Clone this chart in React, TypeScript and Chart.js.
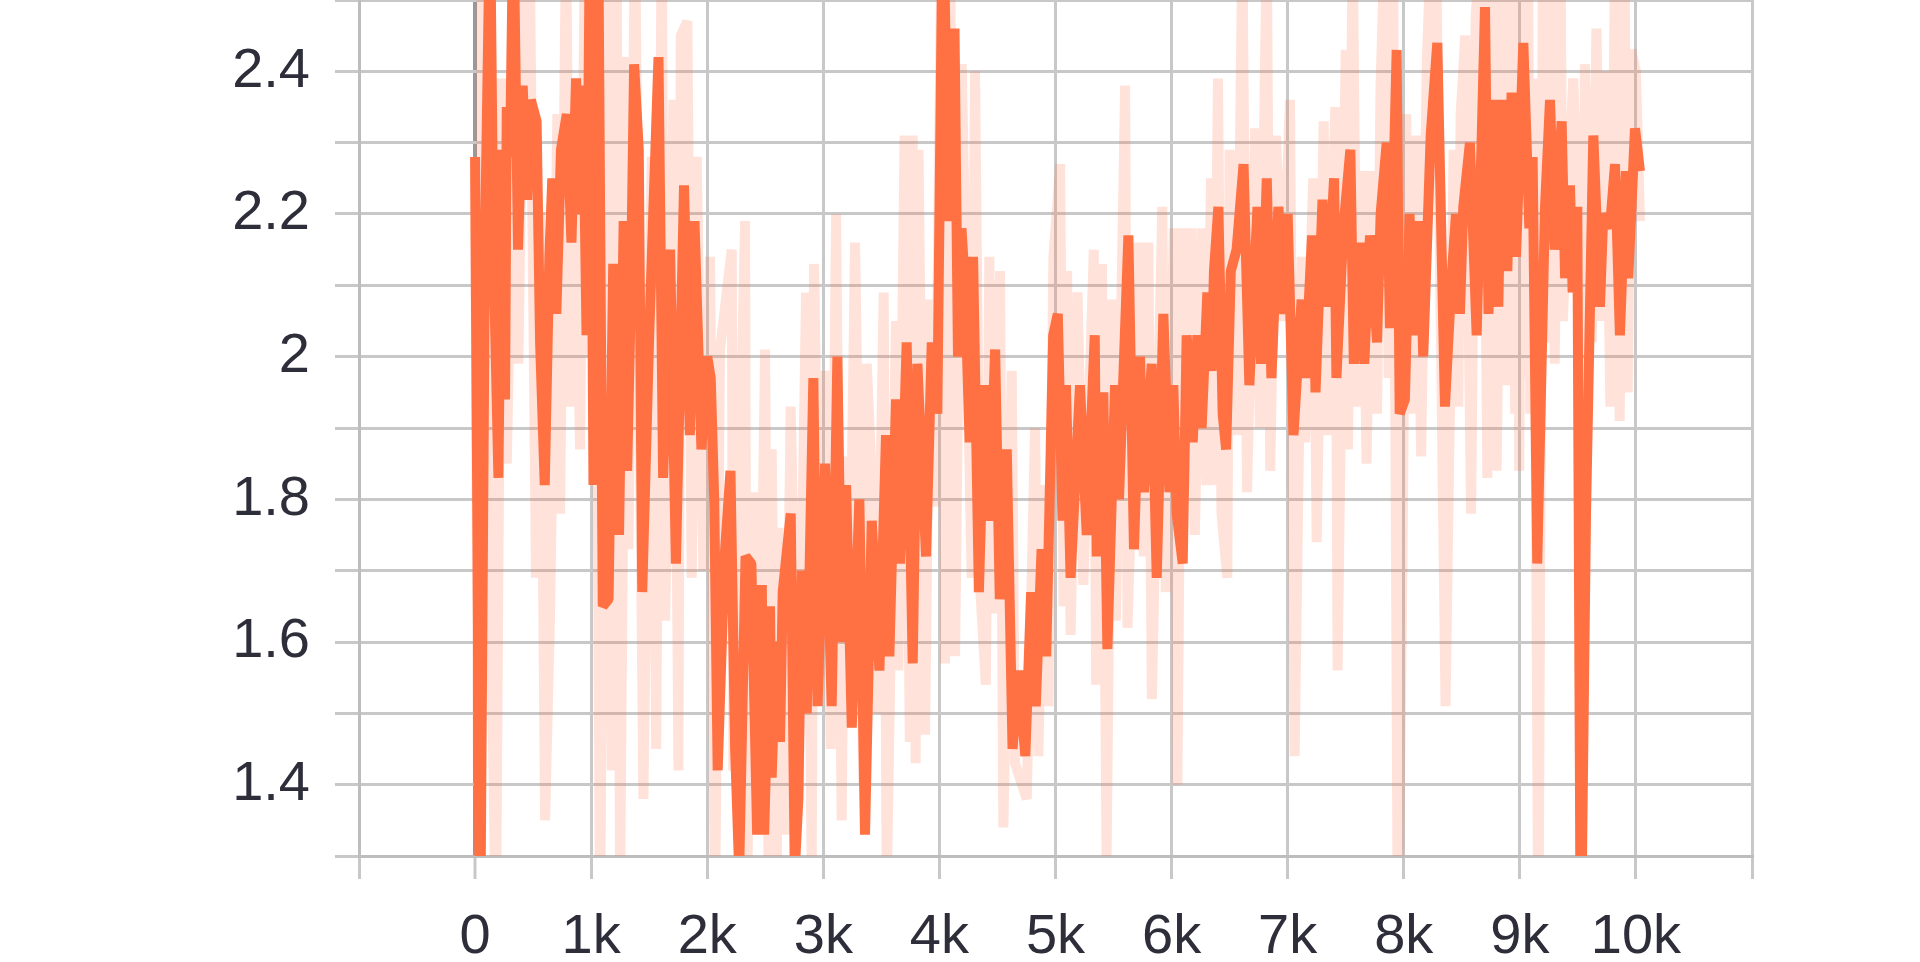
import React, { useEffect, useRef } from 'react';
import { Chart, registerables } from 'chart.js';

Chart.register(...registerables);

// Smoothed series (bold)
const smoothSteps = [
  0, 43, 86, 129, 158, 201, 230, 258, 273, 301, 330, 370, 410, 450, 480, 530, 560, 600, 640, 665,
  700, 740, 790, 830, 870, 900, 930, 960, 990, 1020, 1060, 1100, 1150, 1190, 1240,
  1280, 1310, 1340, 1370, 1410, 1440, 1500, 1580, 1620, 1680, 1730, 1800, 1850, 1890, 1950,
  2000, 2030, 2060, 2090, 2150, 2200, 2240, 2275, 2330, 2380, 2430, 2470,
  2490, 2541, 2555, 2593, 2627, 2650, 2719, 2754, 2785, 2814, 2857, 2914, 2950, 3015, 3072, 3121,
  3158, 3196, 3245, 3310, 3359, 3417, 3483, 3540, 3569, 3626, 3661, 3718, 3770, 3810,
  3885, 3934, 3982, 4030, 4080, 4130, 4160, 4190, 4220, 4260, 4290, 4340, 4390, 4430, 4480, 4520,
  4580, 4630, 4680, 4740, 4790, 4830, 4880, 4920, 4980, 5020, 5060, 5090, 5130,
  5211, 5269, 5338, 5355, 5412, 5447, 5513, 5547, 5628, 5676, 5728, 5762, 5829, 5872, 5929, 5981,
  6015, 6044, 6096, 6130, 6182, 6222, 6259, 6308, 6345, 6365, 6403,
  6440, 6470, 6510, 6560, 6620, 6670, 6740, 6770, 6820, 6860, 6920, 6970, 7000, 7050, 7120, 7150,
  7210, 7240, 7300, 7340, 7400, 7420, 7480, 7540, 7570, 7637, 7660,
  7709, 7770, 7801, 7853, 7881, 7939, 7965, 8010, 8050, 8082, 8134, 8168, 8232, 8289, 8355, 8412,
  8450, 8484, 8513, 8570, 8628, 8700, 8730, 8763, 8815, 8843, 8892, 8929, 8967,
  9030, 9082, 9110, 9150, 9217, 9260, 9300, 9360, 9390, 9432, 9455, 9495, 9525, 9570, 9633, 9690,
  9719, 9776, 9820, 9862, 9914, 9934, 9992, 10035,
];
const smoothValues = [
  2.28, 1.15, 2.17, 2.62, 2.15, 1.83, 2.29, 1.94, 2.35, 2.28, 2.62, 2.15, 2.38, 2.22, 2.36, 2.33, 2.02, 1.82, 2.14, 2.25,
  2.06, 2.29, 2.34, 2.16, 2.39, 2.2, 2.38, 2.03, 2.62, 1.82, 2.62, 1.65, 1.66, 2.13, 1.75,
  2.19, 1.84, 2.07, 2.41, 2.29, 1.67, 2.03, 2.42, 1.83, 2.15, 1.71, 2.24, 1.89, 2.19, 1.87,
  2.0, 1.97, 1.8, 1.42, 1.72, 1.84, 1.45, 1.28, 1.72, 1.71, 1.33, 1.68,
  1.33, 1.65, 1.41, 1.6, 1.46, 1.67, 1.78, 1.28, 1.38, 1.7, 1.5, 1.97, 1.51, 1.85, 1.51, 2.0,
  1.6, 1.82, 1.48, 1.8, 1.33, 1.77, 1.56, 1.89, 1.58, 1.94, 1.71, 2.02, 1.57, 1.99,
  1.72, 2.02, 1.92, 2.65, 2.19, 2.46, 2.0, 2.18, 2.1, 1.88, 2.14, 1.67, 1.96, 1.77, 2.01, 1.66,
  1.87, 1.45, 1.56, 1.44, 1.67, 1.51, 1.73, 1.58, 2.03, 2.06, 1.77, 1.96, 1.69,
  1.96, 1.75, 2.03, 1.72, 1.95, 1.59, 1.96, 1.8, 2.17, 1.73, 2.0, 1.81, 1.99, 1.69, 2.06, 1.81,
  1.96, 1.78, 1.71, 2.03, 1.88, 2.03, 1.9, 2.09, 1.98, 2.12, 2.21,
  1.92, 1.87, 2.12, 2.15, 2.27, 1.96, 2.21, 1.99, 2.25, 1.97, 2.21, 2.06, 2.2, 1.89, 2.08, 1.97,
  2.17, 1.95, 2.22, 2.07, 2.25, 1.97, 2.18, 2.29, 1.99, 2.16, 1.99,
  2.17, 2.02, 2.2, 2.3, 2.04, 2.43, 1.92, 1.94, 2.2, 2.03, 2.19, 2.0, 2.31, 2.44, 1.93, 2.11,
  2.2, 2.06, 2.21, 2.3, 2.03, 2.49, 2.06, 2.36, 2.07, 2.36, 2.12, 2.37, 2.14,
  2.44, 2.18, 2.28, 1.71, 2.21, 2.36, 2.15, 2.33, 2.11, 2.24, 2.09, 2.21, 1.15, 1.78, 2.31, 2.07,
  2.2, 2.18, 2.27, 2.03, 2.26, 2.11, 2.32, 2.26,
];

// Raw series (faint)
const rawSteps = [
  0, 30, 57, 100, 180, 230, 273, 359, 373, 416, 474, 525, 560, 603, 646, 709, 732, 784, 818, 861,
  904, 947, 990, 1030, 1077, 1134, 1177, 1220, 1249, 1307, 1321, 1378, 1450, 1522, 1560, 1608, 1637,
  1709, 1752, 1772, 1829, 1866, 1909, 1967, 2024, 2067, 2110, 2211, 2225, 2326, 2340, 2398, 2441,
  2498, 2527, 2555, 2599, 2613, 2670, 2719, 2785, 2851, 2900, 2920, 2972, 3018, 3064, 3110, 3158,
  3187, 3216, 3273, 3345, 3374, 3431, 3460, 3520, 3546, 3626, 3646, 3700, 3745, 3770, 3795, 3820,
  3876, 3919, 3962, 4020, 4048, 4091, 4135, 4192, 4278, 4307, 4350, 4400, 4430, 4465, 4522, 4551,
  4623, 4651, 4752, 4824, 4852, 4901, 4938, 4982, 5040, 5070, 5100, 5130, 5190, 5240, 5330, 5350,
  5400, 5440, 5490, 5520, 5600, 5620, 5720, 5760, 5800, 5830, 5920, 5950, 6020, 6050, 6090, 6130,
  6170, 6200, 6260, 6300, 6340, 6360, 6400, 6430, 6480, 6500, 6560, 6610, 6650, 6720, 6760, 6820,
  6850, 6900, 6950, 7020, 7060, 7120, 7150, 7220, 7250, 7310, 7340, 7410, 7430, 7500, 7520, 7560,
  7600, 7640, 7680, 7720, 7770, 7800, 7840, 7870, 7910, 7950, 7990, 8020, 8060, 8110, 8150, 8200,
  8240, 8280, 8360, 8430, 8470, 8490, 8530, 8580, 8620, 8680, 8720, 8780, 8800, 8860, 8880, 8930,
  8960, 8975, 8995, 9020, 9045, 9070, 9090, 9120, 9160, 9200, 9230, 9270, 9300, 9350, 9370, 9460,
  9500, 9525, 9560, 9620, 9660, 9700, 9740, 9780, 9820, 9860, 9900, 9930, 9960, 10000, 10035,
];
const rawValues = [
  2.28, 1.2, 2.6, 2.0, 1.2, 2.39, 1.85, 2.55, 1.99, 2.48, 2.52, 1.69, 2.2, 1.35, 1.64, 2.34, 1.78, 2.6, 1.93, 2.3,
  1.87, 2.6, 2.0, 2.6, 1.2, 2.6, 1.42, 2.55, 1.25, 2.42, 1.73, 2.6, 1.38, 2.28, 1.45, 2.6, 1.63,
  2.36, 1.42, 2.45, 2.47, 1.69, 2.28, 1.7, 2.14, 1.22, 2.01, 2.15, 1.42, 2.19, 1.22, 1.81, 1.33,
  2.01, 1.3, 1.87, 1.28, 1.76, 1.33, 1.93, 1.38, 2.09, 1.28, 2.13, 1.55, 1.98, 1.45, 2.2, 1.35,
  1.86, 1.48, 2.16, 1.4, 1.99, 1.78, 1.5, 2.09, 1.25, 2.05, 1.56, 2.31, 1.46, 2.31, 1.43, 2.29,
  1.47, 2.08, 1.79, 2.6, 1.57, 2.6, 1.58, 2.41, 1.69, 2.4, 1.68, 1.54, 2.14, 1.64, 2.12, 1.34,
  1.98, 1.43, 1.38, 1.9, 1.44, 1.82, 1.51, 2.14, 2.27, 1.65, 2.12, 1.61, 2.09, 1.68, 2.15, 1.54,
  2.13, 1.3, 2.08, 1.63, 2.38, 1.62, 2.16, 1.72, 2.16, 1.52, 2.21, 1.67, 2.18, 1.4, 2.18, 1.9,
  2.18, 1.75, 2.18, 1.82, 2.25, 1.82, 2.39, 1.78, 1.69, 2.29, 1.89, 2.58, 1.81, 2.32, 1.9, 2.58,
  1.84, 2.31, 2.05, 2.36, 1.44, 2.14, 1.88, 2.25, 1.74, 2.33, 1.89, 2.35, 1.56, 2.43, 1.87, 2.58,
  1.93, 2.26, 1.85, 2.26, 1.92, 2.38, 2.6, 1.97, 2.5, 1.15, 1.72, 2.34, 1.92, 2.31, 1.86, 2.42,
  2.6, 2.55, 1.51, 2.29, 1.93, 2.34, 2.45, 1.78, 2.48, 2.6, 1.83, 2.6, 1.84, 2.6, 1.96, 2.6,
  1.92, 2.6, 1.84, 2.6, 1.97, 2.6, 1.92, 2.39, 1.15, 2.6, 2.02, 2.6, 1.99, 2.6, 2.05, 2.39,
  2.2, 1.15, 2.41, 2.02, 2.46, 2.05, 2.4, 1.93, 2.55, 1.91, 2.6, 1.95, 2.43, 2.4, 2.19,
];

const xTickLabels = ['0', '1k', '2k', '3k', '4k', '5k', '6k', '7k', '8k', '9k', '10k'];
const yTickLabels = ['1.4', '1.6', '1.8', '2', '2.2', '2.4'];

const FONT = '"Liberation Sans", Arial, sans-serif';
const TEXT = '#2e2e3a';
const GRID = '#c8c8c8';

export default function App() {
  const ref = useRef<HTMLCanvasElement | null>(null);

  useEffect(() => {
    const canvas = ref.current;
    if (!canvas) return;
    const chart = new Chart(canvas, {
      type: 'line',
      data: {
        datasets: [
          {
            data: smoothSteps.map((s, i) => ({ x: s, y: smoothValues[i] })),
            borderColor: '#ff7043',
            borderWidth: 10,
            pointRadius: 0,
            tension: 0,
            clip: 0,
            borderJoinStyle: 'bevel',
          },
          {
            data: rawSteps.map((s, i) => ({ x: s, y: rawValues[i] })),
            borderColor: 'rgba(255,112,67,0.2)',
            borderWidth: 10,
            pointRadius: 0,
            tension: 0,
            clip: 0,
            borderJoinStyle: 'bevel',
          },
        ],
      },
      options: {
        responsive: false,
        devicePixelRatio: 1,
        animation: false,
        events: [],
        layout: { padding: { left: 0, top: 0, right: 168, bottom: 0 }, autoPadding: false },
        plugins: { legend: { display: false }, tooltip: { enabled: false } },
        scales: {
          x: {
            type: 'linear',
            min: -1000,
            max: 11000,
            ticks: {
              stepSize: 1000,
              autoSkip: false,
              maxRotation: 0,
              minRotation: 0,
              padding: 25,
              color: TEXT,
              font: { family: FONT, size: 56 },
              callback: (v: any) => {
                const idx = Math.round(Number(v) / 1000);
                return idx >= 0 && idx < xTickLabels.length ? xTickLabels[idx] : '';
              },
            },
            grid: {
              color: (ctx: any) => (ctx.tick && ctx.tick.value === 0 ? '#999999' : GRID),
              lineWidth: (ctx: any) => (ctx.tick && ctx.tick.value === 0 ? 4 : 3),
              tickColor: GRID,
              tickWidth: 3,
              tickLength: 23,
            },
            border: { display: true, color: '#bdbdbd', width: 3 },
            afterFit: (s: any) => {
              s.height = 106;
              s.paddingLeft = 0;
              s.paddingRight = 0;
            },
          },
          y: {
            type: 'linear',
            min: 1.3,
            max: 2.5,
            ticks: {
              stepSize: 0.1,
              autoSkip: false,
              padding: 25,
              color: TEXT,
              font: { family: FONT, size: 56 },
              callback: (v: any) => {
                const found = yTickLabels.find((l) => Math.abs(Number(l) - Number(v)) < 1e-6);
                return found ?? '';
              },
            },
            grid: { color: GRID, lineWidth: 3, tickLength: 24 },
            border: { display: true, color: '#bdbdbd', width: 3 },
            afterFit: (s: any) => {
              s.width = 359;
              s.paddingTop = 0;
              s.paddingBottom = 0;
            },
          },
        },
      },
    } as any);
    return () => chart.destroy();
  }, []);

  return (
    <div style={{ position: 'fixed', left: 0, top: 0, width: 1920, height: 962, background: '#fff' }}>
      <canvas ref={ref} width={1920} height={962} style={{ display: 'block' }} />
    </div>
  );
}
